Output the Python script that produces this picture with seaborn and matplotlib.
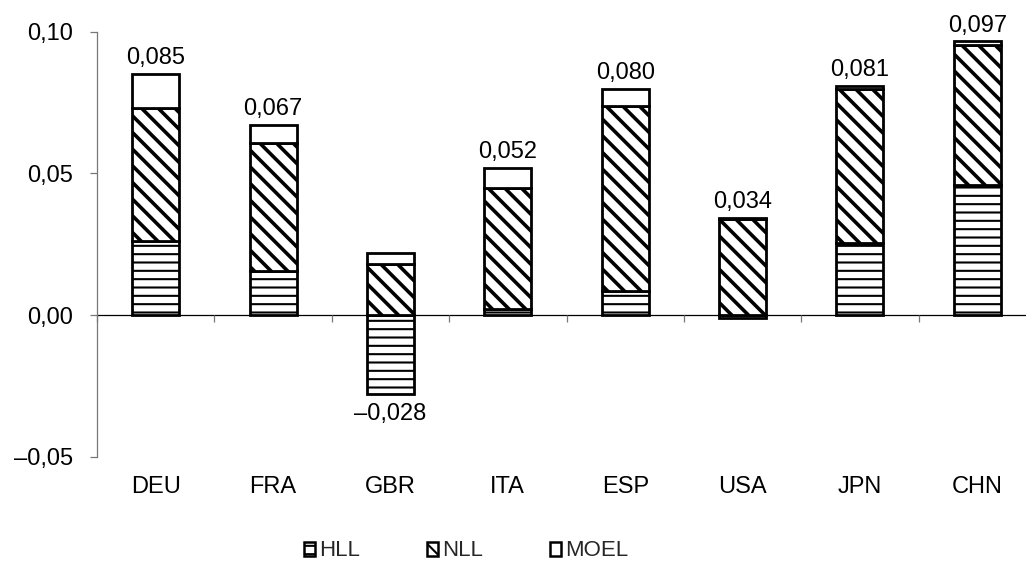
import matplotlib
matplotlib.use("Agg")
import matplotlib.pyplot as plt
import seaborn as sns
import numpy as np
from matplotlib.patches import Patch
from matplotlib.ticker import FixedLocator, FuncFormatter

countries = ["DEU", "FRA", "GBR", "ITA", "ESP", "USA", "JPN", "CHN"]
hll = [0.026, 0.0156, -0.028, 0.002, 0.0086, -0.001, 0.0255, 0.046]
nll = [0.047, 0.045, 0.018, 0.043, 0.0653, 0.034, 0.0544, 0.0493]
moel = [0.012, 0.0066, 0.004, 0.007, 0.0059, 0.0004, 0.0011, 0.0013]
bar_labels = [0.085, 0.067, -0.028, 0.052, 0.080, 0.034, 0.081, 0.097]
series_names = ["HLL", "NLL", "MOEL"]
series_hatch = ["--", "\\\\", ""]
hatch_widths = [1.5, 2.6, 1.0]


def de_num(v, digits):
    s = f"{abs(v):.{digits}f}".replace(".", ",")
    return ("\u2013" + s) if v < 0 else s


sns.set_theme(style="white")
plt.rcParams["font.family"] = ["Liberation Sans", "DejaVu Sans"]
plt.rcParams["hatch.color"] = "black"

fig = plt.figure(figsize=(10.26, 5.62), dpi=100)
ax = fig.add_axes([97 / 1026, 105.3 / 562, 939 / 1026, 425 / 562])

hll_a = np.array(hll)
nll_a = np.array(nll)
moel_a = np.array(moel)
nll_bottom = np.clip(hll_a, 0, None)
moel_bottom = nll_bottom + nll_a
bottoms = [np.zeros(len(countries)), nll_bottom, moel_bottom]
values = [hll_a, nll_a, moel_a]

for vals, bot, hatch, hw in zip(values, bottoms, series_hatch, hatch_widths):
    plt.rcParams["hatch.linewidth"] = hw
    n_before = len(ax.patches)
    sns.barplot(x=countries, y=vals, bottom=bot, color="white", edgecolor="black",
                linewidth=2.0, hatch=hatch, width=0.4, errorbar=None, ax=ax,
                saturation=1)
    for p in ax.patches[n_before:]:
        p.set_facecolor("white")
        if hasattr(p, "set_hatch_linewidth"):
            p.set_hatch_linewidth(hw)

tops = moel_bottom + moel_a
for i, lab in enumerate(bar_labels):
    if lab >= 0:
        ax.annotate(de_num(lab, 3), (i, tops[i]), xytext=(0, 7), textcoords="offset points",
                    ha="center", va="baseline", fontsize=17, color="black")
    else:
        ax.annotate(de_num(lab, 3), (i, lab), xytext=(0, -6), textcoords="offset points",
                    ha="center", va="top", fontsize=17, color="black")

ax.set_xlim(-0.5, len(countries) - 0.5)
ax.set_ylim(-0.05, 0.10)
ax.set_yticks([-0.05, 0.0, 0.05, 0.10])
ax.yaxis.set_major_formatter(FuncFormatter(lambda v, pos: de_num(v, 2)))

for side in ["top", "right"]:
    ax.spines[side].set_visible(False)
ax.spines["left"].set_color("#777777")
ax.spines["left"].set_linewidth(0.9)
ax.spines["bottom"].set_position(("data", 0))
ax.spines["bottom"].set_color("black")
ax.spines["bottom"].set_linewidth(0.9)
ax.spines["bottom"].set_zorder(0.5)

ax.xaxis.set_minor_locator(FixedLocator(np.arange(len(countries) + 1) - 0.5))
ax.tick_params(axis="x", which="major", length=0, pad=116, labelsize=17, colors="black")
ax.tick_params(axis="x", which="minor", bottom=True, length=5, width=0.9, direction="out",
               color="#777777")
ax.tick_params(axis="y", which="major", left=True, length=5, width=0.9, direction="out",
               color="#777777", labelsize=17, labelcolor="black", pad=12)
ax.set_xlabel("")
ax.set_ylabel("")

plt.rcParams["hatch.linewidth"] = 1.5
handles = [Patch(facecolor="white", edgecolor="black", hatch=h, linewidth=1.8, label=n)
           for n, h in zip(series_names, series_hatch)]
fig.legend(handles=handles, loc="center", bbox_to_anchor=(466 / 1026, 11 / 562), ncol=3,
           frameon=False, fontsize=16, handlelength=0.5, handleheight=0.6,
           handletextpad=0.2, columnspacing=3.0)

fig.savefig("out.png", dpi=100)
